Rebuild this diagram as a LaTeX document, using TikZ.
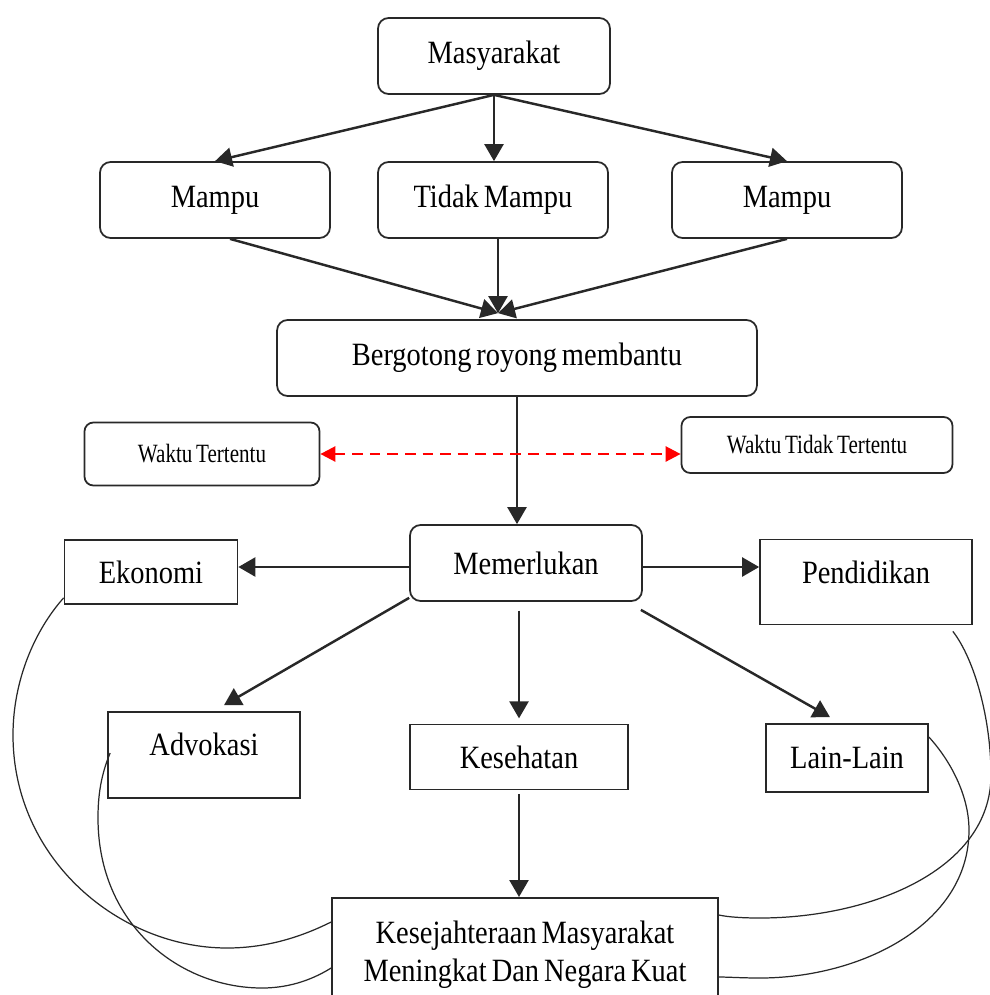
\documentclass[tikz,border=0pt]{standalone}
\usepackage{fontspec}
\setmainfont[FakeStretch=0.875, WordSpace=0.7]{Liberation Serif}
\newfontfamily\sempit[FakeStretch=0.8, WordSpace=0.7]{Liberation Serif}
\usepackage{tikz}
\usetikzlibrary{arrows.meta, positioning, calc}
\definecolor{garis}{RGB}{40,40,40}
\definecolor{putusmerah}{RGB}{255,0,0}

\begin{document}
\begin{tikzpicture}[x=0.02cm, y=-0.02cm,
  bulat/.style={rectangle, draw=garis, line width=1pt, rounded corners=6pt,
               font=\fontsize{18.5}{21}\selectfont, align=center,
               minimum width=4.6cm, minimum height=1.52cm},
  waktu/.style={rectangle, draw=garis, line width=1pt, rounded corners=5pt,
               font=\sempit\fontsize{15}{18}\selectfont, align=center},
  kotak/.style={rectangle, draw=garis, line width=1pt,
               font=\fontsize{18.5}{21}\selectfont, align=center,
               minimum height=1.3cm},
  panah/.style={-{Triangle[length=3.4mm, width=3.8mm]}, line width=1.4pt, garis},
  lengkung/.style={line width=0.7pt, garis},
  putus/.style={{Triangle[length=3mm, width=3mm]}-{Triangle[length=3mm, width=3mm]},
               dash pattern=on 6pt off 4pt, line width=1.4pt, putusmerah},
]
  \useasboundingbox (0,0) rectangle (990,995);

  % Masyarakat
  \node[bulat, minimum width=4.64cm] (msy) at (494,56) {Masyarakat};
  \node[bulat] (mampuA) at (215,200) {Mampu};
  \node[bulat] (tdk) at (493,200) {Tidak Mampu};
  \node[bulat] (mampuB) at (787,200) {Mampu};
  \node[bulat, minimum width=9.6cm] (gotong) at (517,358) {Bergotong royong membantu};

  % Waktu
  \node[waktu, minimum width=4.7cm, minimum height=1.26cm] (wt) at (202,454) {Waktu Tertentu};
  \node[waktu, minimum width=5.42cm, minimum height=1.12cm] (wtt) at (817,445) {Waktu Tidak Tertentu};

  % Kebutuhan
  \node[bulat, minimum width=4.64cm] (perlu) at (526,563) {Memerlukan};
  \node[kotak, minimum width=3.46cm, minimum height=1.28cm] (eko) at (151,572) {Ekonomi};
  \node[kotak, minimum width=4.24cm, minimum height=1.7cm, text depth=0.4cm] (didik) at (866,582) {Pendidikan};
  \node[kotak, minimum width=3.84cm, minimum height=1.72cm, text depth=0.45cm] (advo) at (204,755) {Advokasi};
  \node[kotak, minimum width=4.36cm] (sehat) at (519,757) {Kesehatan};
  \node[kotak, minimum width=3.24cm, minimum height=1.36cm] (lain) at (847,758) {Lain-Lain};
  \node[kotak, minimum width=7.72cm, anchor=north, inner ysep=0.46cm,
        font=\fontsize{18.5}{21.5}\selectfont] (sejahtera) at (525,897)
        {Kesejahteraan Masyarakat\\Meningkat Dan Negara Kuat};

  % Panah
  \coordinate (temu) at ($(gotong.north)+(-19,-6)$);
  \draw[panah] (msy.south) -- (mampuA.north);
  \draw[panah] (msy.south) -- (tdk.north -| msy.south);
  \draw[panah] (msy.south) -- (mampuB.north);
  \draw[panah] ($(mampuA.south)+(15,0)$) -- (temu);
  \draw[panah] (tdk.south -| temu) -- (temu);
  \draw[panah] (mampuB.south) -- (temu);
  \draw[panah] (gotong.south) -- (gotong.south |- perlu.north);
  \draw[putus] (wt.east) -- (wt.east -| wtt.west);

  \draw[panah] ($(perlu.west)+(0,4)$) -- ($(perlu.west -| eko.east)+(0,4)$);
  \draw[panah] ($(perlu.east)+(0,4)$) -- ($(perlu.east -| didik.west)+(0,4)$);
  \draw[panah] ($(perlu.south west)+(0,-4)$) -- ($(advo.north)+(20,-6)$);
  \draw[panah, shorten <=5pt, shorten >=3pt] (perlu.south -| sehat.north) -- (sehat.north);
  \draw[panah] ($(perlu.south east)+(-2,8)$) -- ($(lain.north)+(-17,-6)$);
  \draw[panah, shorten <=2pt] (sehat.south) -- (sehat.south |- sejahtera.north);

  % Lengkungan
  \draw[lengkung] ($(eko.south west)+(0,-7)$) .. controls (35,630) and (13,680) .. (13,735)
    .. controls (13,860) and (120,948) .. (227,948)
    .. controls (270,948) and (305,935) .. ($(sejahtera.north west)+(0,25)$);
  \draw[lengkung] ($(advo.west)+(3,-2)$) .. controls (101,775) and (98,795) .. (98,818)
    .. controls (98,925) and (180,988) .. (262,988)
    .. controls (292,988) and (315,978) .. ($(sejahtera.north west)+(0,71)$);
  \draw[lengkung] ($(didik.south east)+(-20,6)$) .. controls (975,660) and (991,720) .. (991,775)
    .. controls (991,870) and (870,918) .. (760,918)
    .. controls (742,918) and (728,917) .. ($(sejahtera.north east)+(0,18)$);
  \draw[lengkung] ($(lain.east)+(0,-21)$) .. controls (950,760) and (969,795) .. (969,830)
    .. controls (969,925) and (860,978) .. (760,978)
    .. controls (742,978) and (728,977) .. ($(sejahtera.north east)+(0,80)$);
\end{tikzpicture}
\end{document}
